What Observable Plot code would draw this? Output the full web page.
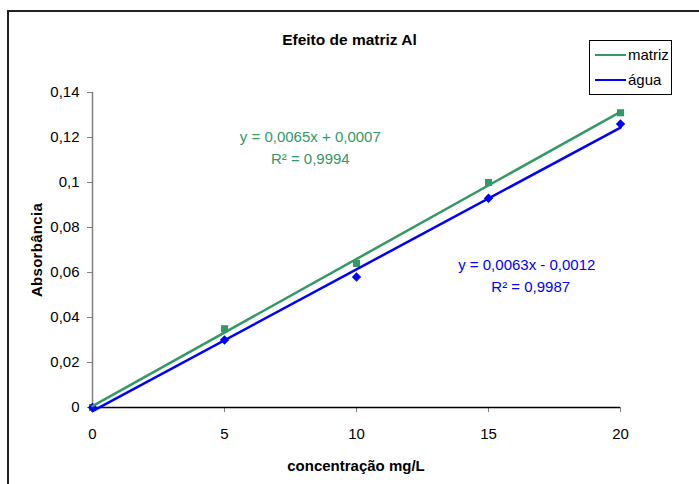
<!DOCTYPE html>
<html>
<head>
<meta charset="utf-8">
<script src="https://cdn.jsdelivr.net/npm/d3@7"></script>
<script src="https://cdn.jsdelivr.net/npm/@observablehq/plot@0.6"></script>
<style>
  html, body { margin: 0; padding: 0; background: #fff; }
  #wrap { position: relative; width: 699px; height: 484px; overflow: hidden; font-family: "Liberation Sans", Arial, sans-serif; color: #000; }
  #frame { position: absolute; left: 7px; top: 10px; width: 760px; height: 560px; border: 2px solid #222; box-sizing: border-box; }
  #chart { position: absolute; left: 0; top: 0; }
  .title { position: absolute; left: 0; width: 699px; top: 31px; text-align: center; font-weight: bold; font-size: 15.5px; }
  .xlabel { position: absolute; left: 92px; width: 528px; top: 457px; text-align: center; font-weight: bold; font-size: 15px; }
  .ylabel { position: absolute; left: 36px; top: 250px; transform: translate(-50%, -50%) rotate(-90deg); font-weight: bold; font-size: 15px; white-space: nowrap; letter-spacing: 0.3px; }
  .legend { position: absolute; left: 589px; top: 40px; width: 83px; height: 55px; border: 1px solid #000; box-sizing: border-box; background: #fff; font-size: 15px; }
  .legend .item { position: absolute; left: 5px; display: flex; align-items: center; }
  .legend .sw { width: 31px; height: 0; border-top: 2.5px solid; margin-right: 2px; }
</style>
</head>
<body>
<div id="wrap">
  <div id="frame"></div>
  <div id="chart"></div>
  <div class="title">Efeito de matriz Al</div>
  <div class="xlabel">concentração mg/L</div>
  <div class="ylabel">Absorbância</div>
  <div class="legend" id="legend"></div>
</div>
<script>
// ---- data ----
const concentracao = [0, 5, 10, 15, 20];
const absMatriz = [0, 0.035, 0.064, 0.100, 0.131];
const absAgua = [0, 0.030, 0.058, 0.093, 0.126];
const seriesNames = ["matriz", "água"];
const seriesColors = ["#339966", "#0000FF"];
const xTicks = [0, 5, 10, 15, 20];
const yTicks = [0, 0.02, 0.04, 0.06, 0.08, 0.1, 0.12, 0.14];
const eqMatriz = ["y = 0,0065x + 0,0007", "R² = 0,9994"];
const eqAgua = ["y = 0,0063x - 0,0012", "R² = 0,9987"];

const rows = [];
concentracao.forEach((c, i) => {
  rows.push({serie: seriesNames[0], x: c, y: absMatriz[i]});
  rows.push({serie: seriesNames[1], x: c, y: absAgua[i]});
});
const matrizRows = rows.filter(d => d.serie === seriesNames[0]);
const aguaRows = rows.filter(d => d.serie === seriesNames[1]);
const fmt = d => String(d).replace(".", ",");

const chart = Plot.plot({
  width: 699,
  height: 484,
  marginLeft: 92,
  marginRight: 79,
  marginTop: 92,
  marginBottom: 77,
  style: {fontFamily: "'Liberation Sans', Arial, sans-serif", fontSize: "15px", background: "transparent", overflow: "visible"},
  x: {domain: [0, 20]},
  y: {domain: [0, 0.14]},
  marks: [
    Plot.axisY({ticks: yTicks, tickFormat: fmt, tickSize: 5, tickPadding: 8, label: null, stroke: "#808080", fill: "#000"}),
    Plot.axisX({ticks: xTicks, tickSize: 5, tickPadding: 16, label: null, stroke: "#808080", fill: "#000"}),
    Plot.ruleX([0], {stroke: "#808080", strokeWidth: 1.5}),
    Plot.ruleY([0], {stroke: "#000", strokeWidth: 1.5}),
    Plot.dot(matrizRows, {x: "x", y: "y", symbol: "square", r: 4, fill: seriesColors[0], stroke: "none"}),
    Plot.dot(aguaRows, {x: "x", y: "y", symbol: "diamond2", r: 4.2, fill: seriesColors[1], stroke: "none"}),
    Plot.linearRegressionY(matrizRows, {x: "x", y: "y", stroke: seriesColors[0], strokeWidth: 2.5, ci: 0}),
    Plot.linearRegressionY(aguaRows, {x: "x", y: "y", stroke: seriesColors[1], strokeWidth: 2.5, ci: 0}),
    Plot.text([eqMatriz[0]], {x: () => 8.25, y: () => 0.12, text: d => d, fill: seriesColors[0], fontSize: 15}),
    Plot.text([eqMatriz[1]], {x: () => 8.25, y: () => 0.1105, text: d => d, fill: seriesColors[0], fontSize: 15}),
    Plot.text([eqAgua[0]], {x: () => 16.45, y: () => 0.0632, text: d => d, fill: seriesColors[1], fontSize: 15}),
    Plot.text([eqAgua[1]], {x: () => 16.6, y: () => 0.0534, text: d => d, fill: seriesColors[1], fontSize: 15})
  ]
});
chart.style.overflow = "visible";
document.getElementById("chart").appendChild(chart);

const legend = document.getElementById("legend");
seriesNames.forEach((name, i) => {
  const it = document.createElement("div");
  it.className = "item";
  it.style.top = (i === 0 ? 5 : 30) + "px";
  const sw = document.createElement("div");
  sw.className = "sw";
  sw.style.borderTopColor = seriesColors[i];
  const tx = document.createElement("span");
  tx.textContent = name;
  it.appendChild(sw);
  it.appendChild(tx);
  legend.appendChild(it);
});
</script>
</body>
</html>
